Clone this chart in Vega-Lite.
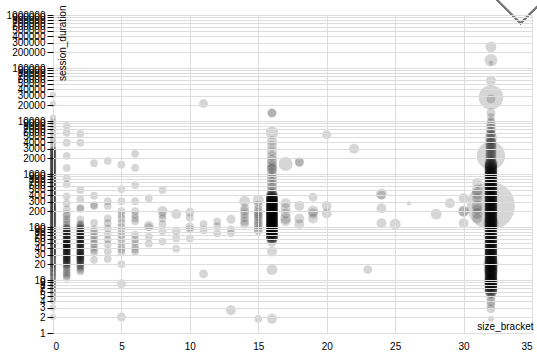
{"$schema":"https://vega.github.io/schema/vega-lite/v6.json","width":479,"height":318,"autosize":{"type":"none"},"padding":{"left":53,"top":15,"right":5,"bottom":21},"config":{"font":"Liberation Sans","view":{"stroke":null}},
"data":{"values":[
{"size_bracket":0,"session_duration":31000,"count":2},{"size_bracket":0,"session_duration":21000,"count":2},{"size_bracket":0,"session_duration":11500,"count":2},{"size_bracket":0,"session_duration":9800,"count":2},{"size_bracket":0,"session_duration":8400,"count":2},{"size_bracket":0,"session_duration":7200,"count":2},{"size_bracket":0,"session_duration":6100,"count":2},{"size_bracket":0,"session_duration":5200,"count":2},{"size_bracket":0,"session_duration":4500,"count":2},{"size_bracket":0,"session_duration":3900,"count":2},{"size_bracket":0,"session_duration":3400,"count":2},
{"size_bracket":0,"session_duration":2990,"count":2},{"size_bracket":0,"session_duration":2795,"count":2},{"size_bracket":0,"session_duration":2612,"count":2},{"size_bracket":0,"session_duration":2441,"count":2},{"size_bracket":0,"session_duration":2281,"count":2},{"size_bracket":0,"session_duration":2132,"count":2},{"size_bracket":0,"session_duration":1993,"count":2},{"size_bracket":0,"session_duration":1862,"count":2},{"size_bracket":0,"session_duration":1741,"count":2},{"size_bracket":0,"session_duration":1627,"count":2},{"size_bracket":0,"session_duration":1520,"count":2},{"size_bracket":0,"session_duration":1421,"count":2},{"size_bracket":0,"session_duration":1328,"count":2},{"size_bracket":0,"session_duration":1241,"count":2},{"size_bracket":0,"session_duration":1160,"count":2},{"size_bracket":0,"session_duration":1084,"count":2},{"size_bracket":0,"session_duration":1013,"count":2},{"size_bracket":0,"session_duration":947,"count":2},{"size_bracket":0,"session_duration":885,"count":2},{"size_bracket":0,"session_duration":827,"count":2},{"size_bracket":0,"session_duration":773,"count":2},{"size_bracket":0,"session_duration":722,"count":2},{"size_bracket":0,"session_duration":675,"count":2},{"size_bracket":0,"session_duration":631,"count":2},{"size_bracket":0,"session_duration":590,"count":2},{"size_bracket":0,"session_duration":551,"count":2},{"size_bracket":0,"session_duration":515,"count":2},{"size_bracket":0,"session_duration":481,"count":2},{"size_bracket":0,"session_duration":450,"count":2},{"size_bracket":0,"session_duration":420,"count":2},{"size_bracket":0,"session_duration":393,"count":2},{"size_bracket":0,"session_duration":367,"count":2},{"size_bracket":0,"session_duration":343,"count":2},{"size_bracket":0,"session_duration":321,"count":2},{"size_bracket":0,"session_duration":300,"count":2},{"size_bracket":0,"session_duration":280,"count":2},{"size_bracket":0,"session_duration":262,"count":2},{"size_bracket":0,"session_duration":245,"count":2},{"size_bracket":0,"session_duration":229,"count":2},{"size_bracket":0,"session_duration":214,"count":2},{"size_bracket":0,"session_duration":200,"count":2},{"size_bracket":0,"session_duration":187,"count":2},{"size_bracket":0,"session_duration":175,"count":2},{"size_bracket":0,"session_duration":164,"count":2},{"size_bracket":0,"session_duration":153,"count":2},{"size_bracket":0,"session_duration":143,"count":2},{"size_bracket":0,"session_duration":134,"count":2},{"size_bracket":0,"session_duration":125,"count":2},{"size_bracket":0,"session_duration":117,"count":2},{"size_bracket":0,"session_duration":109,"count":2},{"size_bracket":0,"session_duration":102,"count":2},{"size_bracket":0,"session_duration":95,"count":2},{"size_bracket":0,"session_duration":89,"count":2},{"size_bracket":0,"session_duration":83,"count":2},{"size_bracket":0,"session_duration":78,"count":2},{"size_bracket":0,"session_duration":73,"count":2},{"size_bracket":0,"session_duration":68,"count":2},{"size_bracket":0,"session_duration":64,"count":2},{"size_bracket":0,"session_duration":60,"count":2},{"size_bracket":0,"session_duration":56,"count":2},{"size_bracket":0,"session_duration":52,"count":2},{"size_bracket":0,"session_duration":49,"count":2},{"size_bracket":0,"session_duration":46,"count":2},{"size_bracket":0,"session_duration":43,"count":2},{"size_bracket":0,"session_duration":40,"count":2},{"size_bracket":0,"session_duration":37,"count":2},{"size_bracket":0,"session_duration":35,"count":2},{"size_bracket":0,"session_duration":33,"count":2},{"size_bracket":0,"session_duration":31,"count":2},{"size_bracket":0,"session_duration":29,"count":2},{"size_bracket":0,"session_duration":27,"count":2},{"size_bracket":0,"session_duration":25,"count":2},{"size_bracket":0,"session_duration":24,"count":2},{"size_bracket":0,"session_duration":22,"count":2},{"size_bracket":0,"session_duration":21,"count":2},{"size_bracket":0,"session_duration":20,"count":2},{"size_bracket":0,"session_duration":19,"count":2},{"size_bracket":0,"session_duration":18,"count":2},{"size_bracket":0,"session_duration":17,"count":2},{"size_bracket":0,"session_duration":16,"count":2},{"size_bracket":0,"session_duration":15,"count":2},{"size_bracket":0,"session_duration":14,"count":2},{"size_bracket":0,"session_duration":13,"count":2},{"size_bracket":0,"session_duration":12,"count":2},{"size_bracket":0,"session_duration":11,"count":2},{"size_bracket":0,"session_duration":10,"count":2},{"size_bracket":0,"session_duration":9,"count":2},{"size_bracket":0,"session_duration":8,"count":2},{"size_bracket":0,"session_duration":7,"count":2},{"size_bracket":0,"session_duration":6,"count":2},{"size_bracket":0,"session_duration":5,"count":2},{"size_bracket":0,"session_duration":4,"count":2},{"size_bracket":0,"session_duration":3,"count":2},{"size_bracket":0,"session_duration":2,"count":2},
{"size_bracket":0,"session_duration":2890,"count":2},{"size_bracket":0,"session_duration":2700,"count":2},{"size_bracket":0,"session_duration":2525,"count":2},{"size_bracket":0,"session_duration":2360,"count":2},{"size_bracket":0,"session_duration":2205,"count":2},{"size_bracket":0,"session_duration":2060,"count":2},{"size_bracket":0,"session_duration":1925,"count":2},{"size_bracket":0,"session_duration":1800,"count":2},{"size_bracket":0,"session_duration":1683,"count":2},{"size_bracket":0,"session_duration":1573,"count":2},{"size_bracket":0,"session_duration":1470,"count":2},{"size_bracket":0,"session_duration":1374,"count":2},{"size_bracket":0,"session_duration":1284,"count":2},{"size_bracket":0,"session_duration":1200,"count":2},{"size_bracket":0,"session_duration":1122,"count":2},{"size_bracket":0,"session_duration":1048,"count":2},{"size_bracket":0,"session_duration":980,"count":2},{"size_bracket":0,"session_duration":915,"count":2},{"size_bracket":0,"session_duration":855,"count":2},{"size_bracket":0,"session_duration":800,"count":2},{"size_bracket":0,"session_duration":747,"count":2},{"size_bracket":0,"session_duration":698,"count":2},{"size_bracket":0,"session_duration":653,"count":2},{"size_bracket":0,"session_duration":610,"count":2},{"size_bracket":0,"session_duration":570,"count":2},{"size_bracket":0,"session_duration":533,"count":2},{"size_bracket":0,"session_duration":498,"count":2},{"size_bracket":0,"session_duration":465,"count":2},{"size_bracket":0,"session_duration":435,"count":2},{"size_bracket":0,"session_duration":406,"count":2},{"size_bracket":0,"session_duration":380,"count":2},{"size_bracket":0,"session_duration":355,"count":2},{"size_bracket":0,"session_duration":332,"count":2},{"size_bracket":0,"session_duration":310,"count":2},{"size_bracket":0,"session_duration":290,"count":2},{"size_bracket":0,"session_duration":271,"count":2},{"size_bracket":0,"session_duration":253,"count":2},{"size_bracket":0,"session_duration":237,"count":2},{"size_bracket":0,"session_duration":221,"count":2},{"size_bracket":0,"session_duration":207,"count":2},{"size_bracket":0,"session_duration":193,"count":2},{"size_bracket":0,"session_duration":181,"count":2},{"size_bracket":0,"session_duration":169,"count":2},{"size_bracket":0,"session_duration":158,"count":2},{"size_bracket":0,"session_duration":148,"count":2},{"size_bracket":0,"session_duration":138,"count":2},{"size_bracket":0,"session_duration":129,"count":2},{"size_bracket":0,"session_duration":121,"count":2},{"size_bracket":0,"session_duration":113,"count":2},{"size_bracket":0,"session_duration":105,"count":2},{"size_bracket":0,"session_duration":98,"count":2},{"size_bracket":0,"session_duration":92,"count":2},{"size_bracket":0,"session_duration":86,"count":2},{"size_bracket":0,"session_duration":80,"count":2},{"size_bracket":0,"session_duration":75,"count":2},{"size_bracket":0,"session_duration":70,"count":2},{"size_bracket":0,"session_duration":66,"count":2},{"size_bracket":0,"session_duration":62,"count":2},{"size_bracket":0,"session_duration":58,"count":2},{"size_bracket":0,"session_duration":54,"count":2},{"size_bracket":0,"session_duration":50,"count":2},{"size_bracket":0,"session_duration":47,"count":2},{"size_bracket":0,"session_duration":44,"count":2},{"size_bracket":0,"session_duration":41,"count":2},{"size_bracket":0,"session_duration":38,"count":2},{"size_bracket":0,"session_duration":36,"count":2},{"size_bracket":0,"session_duration":34,"count":2},{"size_bracket":0,"session_duration":32,"count":2},{"size_bracket":0,"session_duration":30,"count":2},{"size_bracket":0,"session_duration":28,"count":2},{"size_bracket":0,"session_duration":26,"count":2},{"size_bracket":0,"session_duration":23,"count":2},{"size_bracket":0,"session_duration":19.5,"count":2},{"size_bracket":0,"session_duration":16.5,"count":2},{"size_bracket":0,"session_duration":13.5,"count":2},{"size_bracket":0,"session_duration":11.5,"count":2},{"size_bracket":0,"session_duration":9.5,"count":2},{"size_bracket":0,"session_duration":8.5,"count":2},{"size_bracket":0,"session_duration":7.5,"count":2},{"size_bracket":0,"session_duration":6.5,"count":2},{"size_bracket":0,"session_duration":5.5,"count":2},{"size_bracket":0,"session_duration":4.5,"count":2},
{"size_bracket":1,"session_duration":8100,"count":3},{"size_bracket":1,"session_duration":6000,"count":3},{"size_bracket":1,"session_duration":3900,"count":3},{"size_bracket":1,"session_duration":2200,"count":3},{"size_bracket":1,"session_duration":1300,"count":3},{"size_bracket":1,"session_duration":830,"count":3},{"size_bracket":1,"session_duration":640,"count":3},{"size_bracket":1,"session_duration":380,"count":3},{"size_bracket":1,"session_duration":280,"count":3},{"size_bracket":1,"session_duration":215,"count":3},{"size_bracket":1,"session_duration":175,"count":3},{"size_bracket":1,"session_duration":160,"count":3},{"size_bracket":1,"session_duration":140,"count":3},{"size_bracket":1,"session_duration":125,"count":3},{"size_bracket":1,"session_duration":112,"count":3},{"size_bracket":1,"session_duration":100,"count":3},{"size_bracket":1,"session_duration":92,"count":3},{"size_bracket":1,"session_duration":85,"count":3},{"size_bracket":1,"session_duration":78,"count":3},{"size_bracket":1,"session_duration":72,"count":3},{"size_bracket":1,"session_duration":66,"count":3},{"size_bracket":1,"session_duration":61,"count":3},{"size_bracket":1,"session_duration":56,"count":3},{"size_bracket":1,"session_duration":52,"count":3},{"size_bracket":1,"session_duration":48,"count":3},{"size_bracket":1,"session_duration":44,"count":3},{"size_bracket":1,"session_duration":41,"count":3},{"size_bracket":1,"session_duration":38,"count":3},{"size_bracket":1,"session_duration":35,"count":3},{"size_bracket":1,"session_duration":32,"count":3},{"size_bracket":1,"session_duration":30,"count":3},{"size_bracket":1,"session_duration":28,"count":3},{"size_bracket":1,"session_duration":26,"count":3},{"size_bracket":1,"session_duration":24,"count":3},{"size_bracket":1,"session_duration":22,"count":3},{"size_bracket":1,"session_duration":20,"count":3},{"size_bracket":1,"session_duration":18.5,"count":3},{"size_bracket":1,"session_duration":17,"count":3},{"size_bracket":1,"session_duration":15.5,"count":3},{"size_bracket":1,"session_duration":14,"count":3},{"size_bracket":1,"session_duration":13,"count":3},{"size_bracket":1,"session_duration":12,"count":3},{"size_bracket":1,"session_duration":11,"count":3},{"size_bracket":1,"session_duration":75,"count":3},{"size_bracket":1,"session_duration":58,"count":3},{"size_bracket":1,"session_duration":45,"count":3},{"size_bracket":1,"session_duration":36,"count":3},{"size_bracket":1,"session_duration":27,"count":3},{"size_bracket":1,"session_duration":21,"count":3},{"size_bracket":1,"session_duration":64,"count":3},{"size_bracket":1,"session_duration":50,"count":3},{"size_bracket":1,"session_duration":40,"count":3},{"size_bracket":1,"session_duration":31,"count":3},{"size_bracket":1,"session_duration":25,"count":3},
{"size_bracket":1,"session_duration":98,"count":3},{"size_bracket":1,"session_duration":88,"count":3},{"size_bracket":1,"session_duration":81,"count":3},{"size_bracket":1,"session_duration":70,"count":3},{"size_bracket":1,"session_duration":63,"count":3},{"size_bracket":1,"session_duration":54,"count":3},{"size_bracket":1,"session_duration":47,"count":3},{"size_bracket":1,"session_duration":43,"count":3},{"size_bracket":1,"session_duration":39,"count":3},{"size_bracket":1,"session_duration":34,"count":3},{"size_bracket":1,"session_duration":29,"count":3},{"size_bracket":1,"session_duration":23,"count":3},{"size_bracket":1,"session_duration":19,"count":3},
{"size_bracket":1,"session_duration":90,"count":3},{"size_bracket":1,"session_duration":83,"count":3},{"size_bracket":1,"session_duration":76,"count":3},{"size_bracket":1,"session_duration":68,"count":3},{"size_bracket":1,"session_duration":59,"count":3},{"size_bracket":1,"session_duration":53,"count":3},{"size_bracket":1,"session_duration":49,"count":3},{"size_bracket":1,"session_duration":46,"count":3},{"size_bracket":1,"session_duration":42,"count":3},{"size_bracket":1,"session_duration":37,"count":3},{"size_bracket":1,"session_duration":33,"count":3},{"size_bracket":1,"session_duration":29.5,"count":3},{"size_bracket":1,"session_duration":26.5,"count":3},{"size_bracket":1,"session_duration":23.5,"count":3},{"size_bracket":1,"session_duration":21.5,"count":3},
{"size_bracket":2,"session_duration":5700,"count":3},{"size_bracket":2,"session_duration":3900,"count":3},{"size_bracket":2,"session_duration":500,"count":3},{"size_bracket":2,"session_duration":335,"count":3},{"size_bracket":2,"session_duration":230,"count":3},{"size_bracket":2,"session_duration":220,"count":3},{"size_bracket":2,"session_duration":140,"count":3},{"size_bracket":2,"session_duration":115,"count":3},{"size_bracket":2,"session_duration":105,"count":3},{"size_bracket":2,"session_duration":95,"count":3},{"size_bracket":2,"session_duration":87,"count":3},{"size_bracket":2,"session_duration":80,"count":3},{"size_bracket":2,"session_duration":73,"count":3},{"size_bracket":2,"session_duration":67,"count":3},{"size_bracket":2,"session_duration":62,"count":3},{"size_bracket":2,"session_duration":57,"count":3},{"size_bracket":2,"session_duration":52,"count":3},{"size_bracket":2,"session_duration":48,"count":3},{"size_bracket":2,"session_duration":44,"count":3},{"size_bracket":2,"session_duration":40,"count":3},{"size_bracket":2,"session_duration":37,"count":3},{"size_bracket":2,"session_duration":34,"count":3},{"size_bracket":2,"session_duration":31,"count":3},{"size_bracket":2,"session_duration":29,"count":3},{"size_bracket":2,"session_duration":27,"count":3},{"size_bracket":2,"session_duration":25,"count":3},{"size_bracket":2,"session_duration":23,"count":3},{"size_bracket":2,"session_duration":21,"count":3},{"size_bracket":2,"session_duration":19,"count":3},{"size_bracket":2,"session_duration":17,"count":3},{"size_bracket":2,"session_duration":15.5,"count":3},{"size_bracket":2,"session_duration":14.5,"count":3},{"size_bracket":2,"session_duration":70,"count":3},{"size_bracket":2,"session_duration":55,"count":3},{"size_bracket":2,"session_duration":42,"count":3},{"size_bracket":2,"session_duration":33,"count":3},{"size_bracket":2,"session_duration":26,"count":3},{"size_bracket":2,"session_duration":60,"count":3},{"size_bracket":2,"session_duration":46,"count":3},
{"size_bracket":2,"session_duration":110,"count":3},{"size_bracket":2,"session_duration":100,"count":3},{"size_bracket":2,"session_duration":91,"count":3},{"size_bracket":2,"session_duration":83,"count":3},{"size_bracket":2,"session_duration":76,"count":3},{"size_bracket":2,"session_duration":64,"count":3},{"size_bracket":2,"session_duration":50,"count":3},{"size_bracket":2,"session_duration":38,"count":3},{"size_bracket":2,"session_duration":35,"count":3},{"size_bracket":2,"session_duration":30,"count":3},{"size_bracket":2,"session_duration":28,"count":3},{"size_bracket":2,"session_duration":24,"count":3},{"size_bracket":2,"session_duration":22,"count":3},{"size_bracket":2,"session_duration":20,"count":3},{"size_bracket":2,"session_duration":18,"count":3},
{"size_bracket":2,"session_duration":89,"count":3},{"size_bracket":2,"session_duration":82,"count":3},{"size_bracket":2,"session_duration":75,"count":3},{"size_bracket":2,"session_duration":69,"count":3},{"size_bracket":2,"session_duration":65,"count":3},{"size_bracket":2,"session_duration":58,"count":3},{"size_bracket":2,"session_duration":53,"count":3},{"size_bracket":2,"session_duration":49,"count":3},{"size_bracket":2,"session_duration":45,"count":3},{"size_bracket":2,"session_duration":41,"count":3},{"size_bracket":2,"session_duration":36,"count":3},{"size_bracket":2,"session_duration":32,"count":3},{"size_bracket":2,"session_duration":28.5,"count":3},{"size_bracket":2,"session_duration":25.5,"count":3},{"size_bracket":2,"session_duration":22.5,"count":3},
{"size_bracket":3,"session_duration":1600,"count":3},{"size_bracket":3,"session_duration":390,"count":3},{"size_bracket":3,"session_duration":260,"count":3},{"size_bracket":3,"session_duration":250,"count":3},{"size_bracket":3,"session_duration":120,"count":3},{"size_bracket":3,"session_duration":90,"count":3},{"size_bracket":3,"session_duration":80,"count":3},{"size_bracket":3,"session_duration":70,"count":3},{"size_bracket":3,"session_duration":62,"count":3},{"size_bracket":3,"session_duration":55,"count":3},{"size_bracket":3,"session_duration":48,"count":3},{"size_bracket":3,"session_duration":42,"count":3},{"size_bracket":3,"session_duration":37,"count":3},{"size_bracket":3,"session_duration":33,"count":3},{"size_bracket":3,"session_duration":24,"count":3},
{"size_bracket":4,"session_duration":1765,"count":3},{"size_bracket":4,"session_duration":307,"count":3},{"size_bracket":4,"session_duration":250,"count":3},{"size_bracket":4,"session_duration":145,"count":3},{"size_bracket":4,"session_duration":118,"count":3},{"size_bracket":4,"session_duration":94,"count":3},{"size_bracket":4,"session_duration":72,"count":3},{"size_bracket":4,"session_duration":58,"count":3},{"size_bracket":4,"session_duration":47,"count":3},{"size_bracket":4,"session_duration":34.5,"count":3},{"size_bracket":4,"session_duration":25,"count":3},
{"size_bracket":5,"session_duration":1500,"count":3},{"size_bracket":5,"session_duration":520,"count":3},{"size_bracket":5,"session_duration":307,"count":3},{"size_bracket":5,"session_duration":200,"count":3},{"size_bracket":5,"session_duration":170,"count":3},{"size_bracket":5,"session_duration":145,"count":3},{"size_bracket":5,"session_duration":120,"count":3},{"size_bracket":5,"session_duration":100,"count":3},{"size_bracket":5,"session_duration":85,"count":3},{"size_bracket":5,"session_duration":72,"count":3},{"size_bracket":5,"session_duration":62,"count":3},{"size_bracket":5,"session_duration":52,"count":3},{"size_bracket":5,"session_duration":44,"count":3},{"size_bracket":5,"session_duration":38,"count":3},{"size_bracket":5,"session_duration":34,"count":3},{"size_bracket":5,"session_duration":20,"count":3},{"size_bracket":5,"session_duration":8.5,"count":4},{"size_bracket":5,"session_duration":2,"count":4},
{"size_bracket":6,"session_duration":2400,"count":3},{"size_bracket":6,"session_duration":1300,"count":3},{"size_bracket":6,"session_duration":620,"count":3},{"size_bracket":6,"session_duration":307,"count":3},{"size_bracket":6,"session_duration":200,"count":3},{"size_bracket":6,"session_duration":170,"count":3},{"size_bracket":6,"session_duration":145,"count":3},{"size_bracket":6,"session_duration":128,"count":3},{"size_bracket":6,"session_duration":72,"count":3},{"size_bracket":6,"session_duration":60,"count":3},{"size_bracket":6,"session_duration":52,"count":3},{"size_bracket":6,"session_duration":44,"count":3},{"size_bracket":6,"session_duration":38,"count":3},{"size_bracket":6,"session_duration":34,"count":3},
{"size_bracket":7,"session_duration":350,"count":3},{"size_bracket":7,"session_duration":104,"count":5},{"size_bracket":7,"session_duration":100,"count":3},{"size_bracket":7,"session_duration":66,"count":3},{"size_bracket":7,"session_duration":49,"count":3},
{"size_bracket":8,"session_duration":500,"count":3},{"size_bracket":8,"session_duration":200,"count":5},{"size_bracket":8,"session_duration":170,"count":3},{"size_bracket":8,"session_duration":145,"count":3},{"size_bracket":8,"session_duration":113,"count":3},{"size_bracket":8,"session_duration":83,"count":3},{"size_bracket":8,"session_duration":53,"count":3},
{"size_bracket":9,"session_duration":175,"count":5},{"size_bracket":9,"session_duration":83,"count":4},{"size_bracket":9,"session_duration":61,"count":3},{"size_bracket":9,"session_duration":39,"count":3},
{"size_bracket":10,"session_duration":190,"count":4},{"size_bracket":10,"session_duration":150,"count":3},{"size_bracket":10,"session_duration":100,"count":4},{"size_bracket":10,"session_duration":90,"count":3},{"size_bracket":10,"session_duration":61,"count":3},
{"size_bracket":11,"session_duration":21300,"count":4},{"size_bracket":11,"session_duration":113,"count":3},{"size_bracket":11,"session_duration":87,"count":3},{"size_bracket":11,"session_duration":13,"count":4},
{"size_bracket":12,"session_duration":128,"count":3},{"size_bracket":12,"session_duration":104,"count":3},{"size_bracket":12,"session_duration":76,"count":3},
{"size_bracket":13,"session_duration":140,"count":4},{"size_bracket":13,"session_duration":90,"count":3},{"size_bracket":13,"session_duration":76,"count":3},{"size_bracket":13,"session_duration":2.7,"count":5},
{"size_bracket":14,"session_duration":307,"count":6},{"size_bracket":14,"session_duration":225,"count":4},{"size_bracket":14,"session_duration":200,"count":4},{"size_bracket":14,"session_duration":175,"count":4},{"size_bracket":14,"session_duration":150,"count":4},{"size_bracket":14,"session_duration":128,"count":4},{"size_bracket":14,"session_duration":113,"count":4},
{"size_bracket":15,"session_duration":320,"count":6},{"size_bracket":15,"session_duration":260,"count":4},{"size_bracket":15,"session_duration":215,"count":4},{"size_bracket":15,"session_duration":190,"count":4},{"size_bracket":15,"session_duration":175,"count":4},{"size_bracket":15,"session_duration":160,"count":4},{"size_bracket":15,"session_duration":145,"count":4},{"size_bracket":15,"session_duration":128,"count":4},{"size_bracket":15,"session_duration":115,"count":4},{"size_bracket":15,"session_duration":104,"count":4},{"size_bracket":15,"session_duration":90,"count":4},{"size_bracket":15,"session_duration":85,"count":4},{"size_bracket":15,"session_duration":1.85,"count":3},
{"size_bracket":16,"session_duration":1.85,"count":5},{"size_bracket":16,"session_duration":15.7,"count":6},{"size_bracket":16,"session_duration":34.5,"count":5},{"size_bracket":16,"session_duration":53,"count":5},
{"size_bracket":16,"session_duration":61,"count":7},{"size_bracket":16,"session_duration":63,"count":7},{"size_bracket":16,"session_duration":66,"count":7},{"size_bracket":16,"session_duration":69,"count":7},{"size_bracket":16,"session_duration":72,"count":7},{"size_bracket":16,"session_duration":76,"count":7},{"size_bracket":16,"session_duration":79,"count":7},{"size_bracket":16,"session_duration":83,"count":7},{"size_bracket":16,"session_duration":87,"count":7},{"size_bracket":16,"session_duration":90,"count":7},{"size_bracket":16,"session_duration":95,"count":7},{"size_bracket":16,"session_duration":100,"count":7},{"size_bracket":16,"session_duration":104,"count":7},{"size_bracket":16,"session_duration":109,"count":7},{"size_bracket":16,"session_duration":113,"count":7},{"size_bracket":16,"session_duration":118,"count":7},{"size_bracket":16,"session_duration":123,"count":7},{"size_bracket":16,"session_duration":128,"count":7},{"size_bracket":16,"session_duration":134,"count":7},{"size_bracket":16,"session_duration":140,"count":7},{"size_bracket":16,"session_duration":145,"count":7},{"size_bracket":16,"session_duration":152,"count":7},{"size_bracket":16,"session_duration":160,"count":7},{"size_bracket":16,"session_duration":165,"count":7},{"size_bracket":16,"session_duration":175,"count":7},{"size_bracket":16,"session_duration":180,"count":7},{"size_bracket":16,"session_duration":190,"count":7},{"size_bracket":16,"session_duration":198,"count":7},{"size_bracket":16,"session_duration":205,"count":7},{"size_bracket":16,"session_duration":215,"count":7},{"size_bracket":16,"session_duration":225,"count":7},{"size_bracket":16,"session_duration":235,"count":7},{"size_bracket":16,"session_duration":250,"count":7},{"size_bracket":16,"session_duration":260,"count":7},{"size_bracket":16,"session_duration":270,"count":7},{"size_bracket":16,"session_duration":280,"count":7},{"size_bracket":16,"session_duration":295,"count":7},{"size_bracket":16,"session_duration":307,"count":7},{"size_bracket":16,"session_duration":320,"count":7},{"size_bracket":16,"session_duration":335,"count":7},{"size_bracket":16,"session_duration":350,"count":7},{"size_bracket":16,"session_duration":365,"count":7},{"size_bracket":16,"session_duration":380,"count":7},
{"size_bracket":16,"session_duration":62,"count":7},{"size_bracket":16,"session_duration":64.5,"count":7},{"size_bracket":16,"session_duration":67.5,"count":7},{"size_bracket":16,"session_duration":70.5,"count":7},{"size_bracket":16,"session_duration":74,"count":7},{"size_bracket":16,"session_duration":77.5,"count":7},{"size_bracket":16,"session_duration":81,"count":7},{"size_bracket":16,"session_duration":85,"count":7},{"size_bracket":16,"session_duration":88.5,"count":7},{"size_bracket":16,"session_duration":92.5,"count":7},{"size_bracket":16,"session_duration":97.5,"count":7},{"size_bracket":16,"session_duration":102,"count":7},{"size_bracket":16,"session_duration":106.5,"count":7},{"size_bracket":16,"session_duration":111,"count":7},{"size_bracket":16,"session_duration":115.5,"count":7},{"size_bracket":16,"session_duration":120.5,"count":7},{"size_bracket":16,"session_duration":125.5,"count":7},{"size_bracket":16,"session_duration":131,"count":7},{"size_bracket":16,"session_duration":137,"count":7},{"size_bracket":16,"session_duration":142.5,"count":7},{"size_bracket":16,"session_duration":148.5,"count":7},{"size_bracket":16,"session_duration":156,"count":7},{"size_bracket":16,"session_duration":162.5,"count":7},{"size_bracket":16,"session_duration":170,"count":7},{"size_bracket":16,"session_duration":177.5,"count":7},{"size_bracket":16,"session_duration":185,"count":7},{"size_bracket":16,"session_duration":194,"count":7},{"size_bracket":16,"session_duration":201.5,"count":7},{"size_bracket":16,"session_duration":210,"count":7},{"size_bracket":16,"session_duration":220,"count":7},{"size_bracket":16,"session_duration":230,"count":7},{"size_bracket":16,"session_duration":242.5,"count":7},{"size_bracket":16,"session_duration":255,"count":7},{"size_bracket":16,"session_duration":265,"count":7},{"size_bracket":16,"session_duration":275,"count":7},{"size_bracket":16,"session_duration":287.5,"count":7},{"size_bracket":16,"session_duration":301,"count":7},{"size_bracket":16,"session_duration":313.5,"count":7},{"size_bracket":16,"session_duration":327.5,"count":7},{"size_bracket":16,"session_duration":342.5,"count":7},{"size_bracket":16,"session_duration":357.5,"count":7},{"size_bracket":16,"session_duration":372.5,"count":7},{"size_bracket":16,"session_duration":400,"count":7},
{"size_bracket":16,"session_duration":420,"count":6},{"size_bracket":16,"session_duration":475,"count":5},{"size_bracket":16,"session_duration":540,"count":5},{"size_bracket":16,"session_duration":620,"count":5},{"size_bracket":16,"session_duration":700,"count":5},{"size_bracket":16,"session_duration":800,"count":5},{"size_bracket":16,"session_duration":900,"count":5},{"size_bracket":16,"session_duration":1045,"count":5},{"size_bracket":16,"session_duration":1250,"count":5},{"size_bracket":16,"session_duration":1260,"count":5},{"size_bracket":16,"session_duration":1420,"count":5},{"size_bracket":16,"session_duration":1620,"count":5},{"size_bracket":16,"session_duration":1850,"count":5},{"size_bracket":16,"session_duration":2200,"count":5},{"size_bracket":16,"session_duration":2700,"count":5},{"size_bracket":16,"session_duration":3400,"count":5},{"size_bracket":16,"session_duration":4200,"count":5},{"size_bracket":16,"session_duration":6000,"count":8},{"size_bracket":16,"session_duration":14400,"count":4},{"size_bracket":16,"session_duration":14000,"count":4},
{"size_bracket":17,"session_duration":1550,"count":10},{"size_bracket":17,"session_duration":280,"count":5},{"size_bracket":17,"session_duration":225,"count":5},{"size_bracket":17,"session_duration":180,"count":5},{"size_bracket":17,"session_duration":145,"count":6},{"size_bracket":17,"session_duration":128,"count":5},
{"size_bracket":18,"session_duration":1700,"count":4},{"size_bracket":18,"session_duration":1650,"count":4},{"size_bracket":18,"session_duration":250,"count":5},{"size_bracket":18,"session_duration":145,"count":5},{"size_bracket":18,"session_duration":113,"count":5},
{"size_bracket":19,"session_duration":365,"count":4},{"size_bracket":19,"session_duration":200,"count":6},{"size_bracket":19,"session_duration":180,"count":5},{"size_bracket":19,"session_duration":145,"count":5},
{"size_bracket":20,"session_duration":5500,"count":4},{"size_bracket":20,"session_duration":250,"count":5},{"size_bracket":20,"session_duration":180,"count":5},
{"size_bracket":22,"session_duration":3000,"count":5},{"size_bracket":23,"session_duration":15.7,"count":4},
{"size_bracket":24,"session_duration":420,"count":6},{"size_bracket":24,"session_duration":400,"count":4},{"size_bracket":24,"session_duration":225,"count":5},{"size_bracket":24,"session_duration":118,"count":5},
{"size_bracket":25,"session_duration":113,"count":6},{"size_bracket":26,"session_duration":280,"count":1},{"size_bracket":28,"session_duration":175,"count":6},{"size_bracket":29,"session_duration":280,"count":5},
{"size_bracket":30,"session_duration":350,"count":5},{"size_bracket":30,"session_duration":200,"count":6},{"size_bracket":30,"session_duration":195,"count":5},{"size_bracket":30,"session_duration":118,"count":5},
{"size_bracket":31,"session_duration":680,"count":5},{"size_bracket":31,"session_duration":500,"count":6},{"size_bracket":31,"session_duration":420,"count":6},{"size_bracket":31,"session_duration":350,"count":5},{"size_bracket":31,"session_duration":250,"count":6},{"size_bracket":31,"session_duration":215,"count":5},{"size_bracket":31,"session_duration":180,"count":6},{"size_bracket":31,"session_duration":145,"count":5},
{"size_bracket":32,"session_duration":250000,"count":6},{"size_bracket":32,"session_duration":140000,"count":8},{"size_bracket":32,"session_duration":124000,"count":1},{"size_bracket":32,"session_duration":58000,"count":5},{"size_bracket":32,"session_duration":28000,"count":30},{"size_bracket":32,"session_duration":26000,"count":4},{"size_bracket":32,"session_duration":14400,"count":4},{"size_bracket":32,"session_duration":12000,"count":3},{"size_bracket":32,"session_duration":10100,"count":3},{"size_bracket":32,"session_duration":9000,"count":5},{"size_bracket":32,"session_duration":8200,"count":4},{"size_bracket":32,"session_duration":7300,"count":5},{"size_bracket":32,"session_duration":6550,"count":4},{"size_bracket":32,"session_duration":6000,"count":5},{"size_bracket":32,"session_duration":5600,"count":4},{"size_bracket":32,"session_duration":5200,"count":5},{"size_bracket":32,"session_duration":4800,"count":8},{"size_bracket":32,"session_duration":4500,"count":5},{"size_bracket":32,"session_duration":4200,"count":4},{"size_bracket":32,"session_duration":3950,"count":6},
{"size_bracket":32,"session_duration":3710,"count":6},{"size_bracket":32,"session_duration":3400,"count":6},{"size_bracket":32,"session_duration":3115,"count":6},{"size_bracket":32,"session_duration":2853,"count":6},{"size_bracket":32,"session_duration":2615,"count":6},{"size_bracket":32,"session_duration":2397,"count":6},{"size_bracket":32,"session_duration":2197,"count":6},{"size_bracket":32,"session_duration":2013,"count":6},{"size_bracket":32,"session_duration":1845,"count":6},{"size_bracket":32,"session_duration":1690,"count":6},{"size_bracket":32,"session_duration":2200,"count":40},
{"size_bracket":32,"session_duration":6.0,"count":8},{"size_bracket":32,"session_duration":6.4,"count":8},{"size_bracket":32,"session_duration":6.8,"count":8},{"size_bracket":32,"session_duration":7.3,"count":8},{"size_bracket":32,"session_duration":7.8,"count":8},{"size_bracket":32,"session_duration":8.3,"count":8},{"size_bracket":32,"session_duration":8.9,"count":8},{"size_bracket":32,"session_duration":9.5,"count":8},{"size_bracket":32,"session_duration":10.1,"count":8},{"size_bracket":32,"session_duration":10.8,"count":8},{"size_bracket":32,"session_duration":11.5,"count":8},{"size_bracket":32,"session_duration":12.3,"count":8},{"size_bracket":32,"session_duration":13.2,"count":8},{"size_bracket":32,"session_duration":14.1,"count":8},{"size_bracket":32,"session_duration":15,"count":8},{"size_bracket":32,"session_duration":16,"count":8},{"size_bracket":32,"session_duration":17.1,"count":8},{"size_bracket":32,"session_duration":18.3,"count":8},{"size_bracket":32,"session_duration":19.5,"count":8},{"size_bracket":32,"session_duration":20.8,"count":8},{"size_bracket":32,"session_duration":22.2,"count":8},{"size_bracket":32,"session_duration":23.7,"count":8},{"size_bracket":32,"session_duration":25.3,"count":8},{"size_bracket":32,"session_duration":27.1,"count":8},{"size_bracket":32,"session_duration":28.9,"count":8},{"size_bracket":32,"session_duration":30.9,"count":8},{"size_bracket":32,"session_duration":33,"count":8},{"size_bracket":32,"session_duration":35.2,"count":8},{"size_bracket":32,"session_duration":37.6,"count":8},{"size_bracket":32,"session_duration":40.1,"count":8},{"size_bracket":32,"session_duration":42.9,"count":8},{"size_bracket":32,"session_duration":45.8,"count":8},{"size_bracket":32,"session_duration":48.9,"count":8},{"size_bracket":32,"session_duration":52.2,"count":8},{"size_bracket":32,"session_duration":55.7,"count":8},{"size_bracket":32,"session_duration":59.5,"count":8},{"size_bracket":32,"session_duration":63.5,"count":8},{"size_bracket":32,"session_duration":67.8,"count":8},{"size_bracket":32,"session_duration":72.4,"count":8},{"size_bracket":32,"session_duration":77.3,"count":8},{"size_bracket":32,"session_duration":82.6,"count":8},{"size_bracket":32,"session_duration":88.2,"count":8},{"size_bracket":32,"session_duration":94.2,"count":8},{"size_bracket":32,"session_duration":100.6,"count":8},{"size_bracket":32,"session_duration":107,"count":8},{"size_bracket":32,"session_duration":115,"count":8},{"size_bracket":32,"session_duration":122,"count":8},{"size_bracket":32,"session_duration":131,"count":8},{"size_bracket":32,"session_duration":140,"count":8},{"size_bracket":32,"session_duration":149,"count":8},{"size_bracket":32,"session_duration":159,"count":8},{"size_bracket":32,"session_duration":170,"count":8},{"size_bracket":32,"session_duration":182,"count":8},{"size_bracket":32,"session_duration":194,"count":8},{"size_bracket":32,"session_duration":207,"count":8},{"size_bracket":32,"session_duration":221,"count":8},{"size_bracket":32,"session_duration":236,"count":8},{"size_bracket":32,"session_duration":252,"count":8},{"size_bracket":32,"session_duration":269,"count":8},{"size_bracket":32,"session_duration":288,"count":8},{"size_bracket":32,"session_duration":307,"count":8},{"size_bracket":32,"session_duration":328,"count":8},{"size_bracket":32,"session_duration":350,"count":8},{"size_bracket":32,"session_duration":374,"count":8},{"size_bracket":32,"session_duration":399,"count":8},{"size_bracket":32,"session_duration":426,"count":8},{"size_bracket":32,"session_duration":455,"count":8},{"size_bracket":32,"session_duration":486,"count":8},{"size_bracket":32,"session_duration":519,"count":8},{"size_bracket":32,"session_duration":554,"count":8},{"size_bracket":32,"session_duration":592,"count":8},{"size_bracket":32,"session_duration":632,"count":8},{"size_bracket":32,"session_duration":675,"count":8},{"size_bracket":32,"session_duration":720,"count":8},{"size_bracket":32,"session_duration":769,"count":8},{"size_bracket":32,"session_duration":821,"count":8},{"size_bracket":32,"session_duration":877,"count":8},{"size_bracket":32,"session_duration":937,"count":8},{"size_bracket":32,"session_duration":1000,"count":8},{"size_bracket":32,"session_duration":1068,"count":8},{"size_bracket":32,"session_duration":1140,"count":8},{"size_bracket":32,"session_duration":1218,"count":8},{"size_bracket":32,"session_duration":1300,"count":8},{"size_bracket":32,"session_duration":1388,"count":8},{"size_bracket":32,"session_duration":1482,"count":8},{"size_bracket":32,"session_duration":1583,"count":8},
{"size_bracket":32,"session_duration":6.2,"count":8},{"size_bracket":32,"session_duration":6.6,"count":8},{"size_bracket":32,"session_duration":7.05,"count":8},{"size_bracket":32,"session_duration":7.55,"count":8},{"size_bracket":32,"session_duration":8.05,"count":8},{"size_bracket":32,"session_duration":8.6,"count":8},{"size_bracket":32,"session_duration":9.2,"count":8},{"size_bracket":32,"session_duration":9.8,"count":8},{"size_bracket":32,"session_duration":10.45,"count":8},{"size_bracket":32,"session_duration":11.15,"count":8},{"size_bracket":32,"session_duration":11.9,"count":8},{"size_bracket":32,"session_duration":12.75,"count":8},{"size_bracket":32,"session_duration":13.65,"count":8},{"size_bracket":32,"session_duration":14.55,"count":8},{"size_bracket":32,"session_duration":15.5,"count":8},{"size_bracket":32,"session_duration":16.55,"count":8},{"size_bracket":32,"session_duration":17.7,"count":8},{"size_bracket":32,"session_duration":18.9,"count":8},{"size_bracket":32,"session_duration":20.15,"count":8},{"size_bracket":32,"session_duration":21.5,"count":8},{"size_bracket":32,"session_duration":22.95,"count":8},{"size_bracket":32,"session_duration":24.5,"count":8},{"size_bracket":32,"session_duration":26.2,"count":8},{"size_bracket":32,"session_duration":28,"count":8},{"size_bracket":32,"session_duration":29.9,"count":8},{"size_bracket":32,"session_duration":31.95,"count":8},{"size_bracket":32,"session_duration":34.1,"count":8},{"size_bracket":32,"session_duration":36.4,"count":8},{"size_bracket":32,"session_duration":38.85,"count":8},{"size_bracket":32,"session_duration":41.5,"count":8},{"size_bracket":32,"session_duration":44.35,"count":8},{"size_bracket":32,"session_duration":47.35,"count":8},{"size_bracket":32,"session_duration":50.55,"count":8},{"size_bracket":32,"session_duration":53.95,"count":8},{"size_bracket":32,"session_duration":57.6,"count":8},{"size_bracket":32,"session_duration":61.5,"count":8},{"size_bracket":32,"session_duration":65.65,"count":8},{"size_bracket":32,"session_duration":70.1,"count":8},{"size_bracket":32,"session_duration":74.85,"count":8},{"size_bracket":32,"session_duration":79.95,"count":8},{"size_bracket":32,"session_duration":85.4,"count":8},{"size_bracket":32,"session_duration":91.2,"count":8},{"size_bracket":32,"session_duration":97.4,"count":8},{"size_bracket":32,"session_duration":103.8,"count":8},{"size_bracket":32,"session_duration":111,"count":8},{"size_bracket":32,"session_duration":118.5,"count":8},{"size_bracket":32,"session_duration":126.5,"count":8},{"size_bracket":32,"session_duration":135.5,"count":8},{"size_bracket":32,"session_duration":144.5,"count":8},{"size_bracket":32,"session_duration":154,"count":8},{"size_bracket":32,"session_duration":164.5,"count":8},{"size_bracket":32,"session_duration":176,"count":8},{"size_bracket":32,"session_duration":188,"count":8},{"size_bracket":32,"session_duration":200.5,"count":8},{"size_bracket":32,"session_duration":214,"count":8},{"size_bracket":32,"session_duration":228.5,"count":8},{"size_bracket":32,"session_duration":244,"count":8},{"size_bracket":32,"session_duration":260.5,"count":8},{"size_bracket":32,"session_duration":278.5,"count":8},{"size_bracket":32,"session_duration":297.5,"count":8},{"size_bracket":32,"session_duration":317.5,"count":8},{"size_bracket":32,"session_duration":339,"count":8},{"size_bracket":32,"session_duration":362,"count":8},{"size_bracket":32,"session_duration":386.5,"count":8},{"size_bracket":32,"session_duration":412.5,"count":8},{"size_bracket":32,"session_duration":440.5,"count":8},{"size_bracket":32,"session_duration":470.5,"count":8},{"size_bracket":32,"session_duration":502.5,"count":8},{"size_bracket":32,"session_duration":536.5,"count":8},{"size_bracket":32,"session_duration":573,"count":8},{"size_bracket":32,"session_duration":612,"count":8},{"size_bracket":32,"session_duration":653.5,"count":8},{"size_bracket":32,"session_duration":697.5,"count":8},{"size_bracket":32,"session_duration":744.5,"count":8},{"size_bracket":32,"session_duration":795,"count":8},{"size_bracket":32,"session_duration":849,"count":8},{"size_bracket":32,"session_duration":907,"count":8},{"size_bracket":32,"session_duration":968.5,"count":8},{"size_bracket":32,"session_duration":1034,"count":8},{"size_bracket":32,"session_duration":1104,"count":8},{"size_bracket":32,"session_duration":1179,"count":8},{"size_bracket":32,"session_duration":1259,"count":8},{"size_bracket":32,"session_duration":1344,"count":8},{"size_bracket":32,"session_duration":1435,"count":8},{"size_bracket":32,"session_duration":1532,"count":8},
{"size_bracket":32,"session_duration":250,"count":115},{"size_bracket":32,"session_duration":118,"count":12},{"size_bracket":32,"session_duration":20,"count":12},{"size_bracket":32,"session_duration":15,"count":10},{"size_bracket":32,"session_duration":9,"count":10},
{"size_bracket":32,"session_duration":5.3,"count":4},{"size_bracket":32,"session_duration":4.5,"count":4},{"size_bracket":32,"session_duration":3.9,"count":4},{"size_bracket":32,"session_duration":3.4,"count":4},{"size_bracket":32,"session_duration":2.86,"count":4},{"size_bracket":32,"session_duration":1.85,"count":2}
]},
"layer":[
{"mark":{"type":"circle","color":"#000","opacity":0.16},
"encoding":{
"x":{"field":"size_bracket","type":"quantitative","scale":{"domain":[0,35],"nice":false,"zero":false},"axis":{"values":[0,5,10,15,20,25,30,35],"grid":true,"gridColor":"#ddd","ticks":false,"domain":false,"labelPadding":8,"labelFontSize":10,"labelColor":"#000","title":"size_bracket","titleFontSize":10,"titleFontWeight":"normal","titleColor":"#000","titleX":480,"titleY":-4,"titleAlign":"right","titleAnchor":null,"titleBaseline":"alphabetic","zindex":1}},
"y":{"field":"session_duration","type":"quantitative","scale":{"type":"log","domain":[1,1000000],"nice":false},"axis":{"values":[1,2,3,4,5,6,7,8,9,10,20,30,40,50,60,70,80,90,100,200,300,400,500,600,700,800,900,1000,2000,3000,4000,5000,6000,7000,8000,9000,10000,20000,30000,40000,50000,60000,70000,80000,90000,100000,200000,300000,400000,500000,600000,700000,800000,900000,1000000],"format":"d","grid":true,"gridColor":"#ddd","tickColor":"#000","tickSize":6,"domain":false,"labelOverlap":false,"labelPadding":2,"labelFontSize":10,"labelColor":"#000","title":"session_duration","titleFontSize":10,"titleFontWeight":"normal","titleColor":"#000","titleAngle":-90,"titleX":9,"titleY":-10,"titleAlign":"right","titleBaseline":"middle","zindex":1}},
"size":{"field":"count","type":"quantitative","scale":{"type":"linear","domain":[0,115],"range":[0,2300]},"legend":null}
}},
{"mark":{"type":"point","shape":"diamond","filled":true,"fill":"#fff","stroke":"#777","strokeWidth":1.8,"opacity":1,"size":2116},
"encoding":{"x":{"datum":34.16,"type":"quantitative"},"y":{"datum":1920000,"type":"quantitative"}}}
]}
